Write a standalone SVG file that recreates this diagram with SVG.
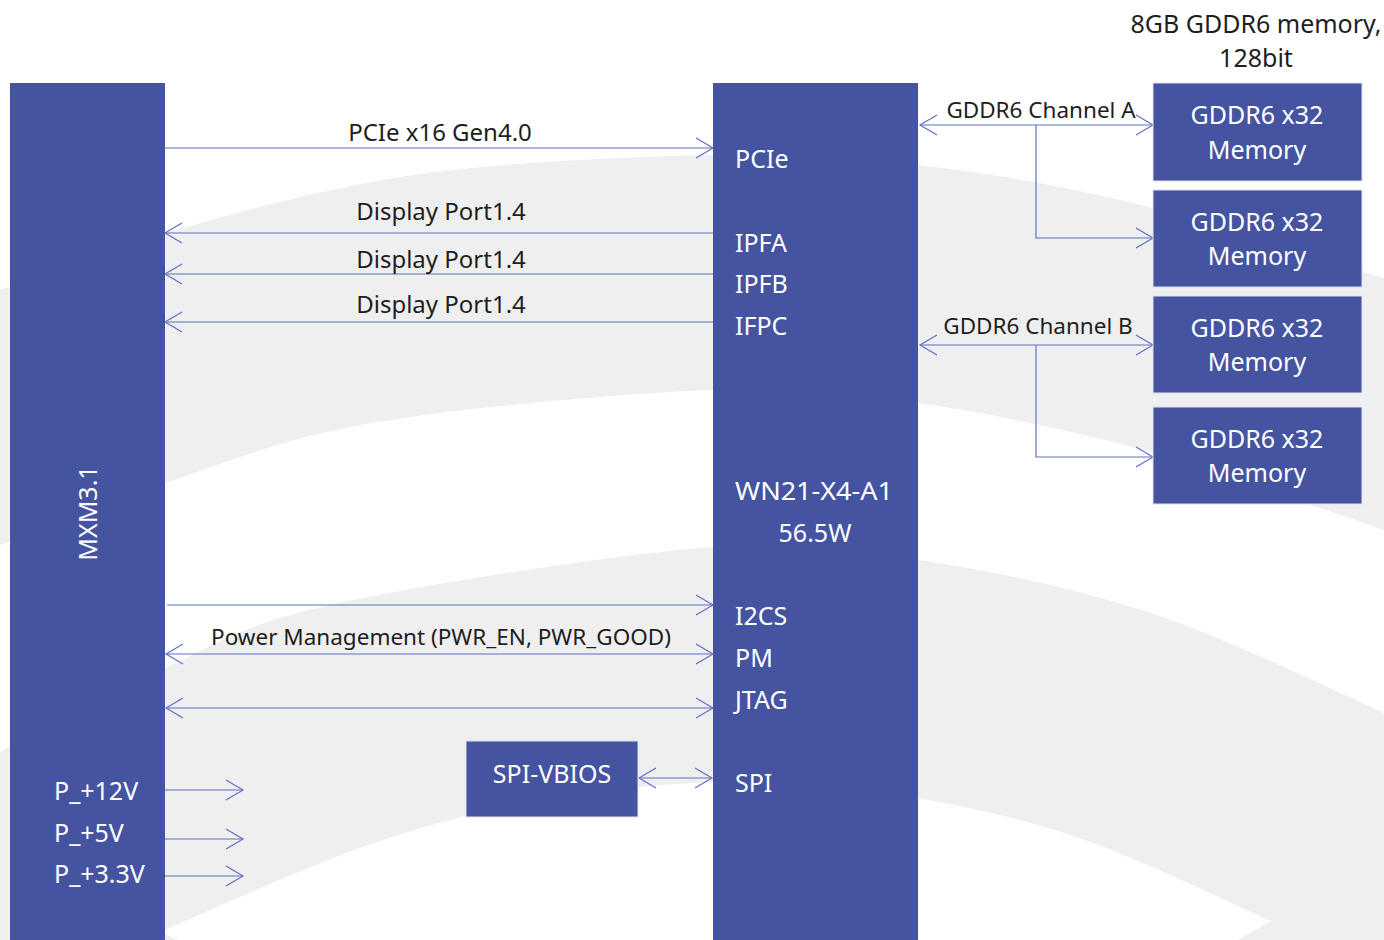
<svg xmlns="http://www.w3.org/2000/svg" width="1384" height="940" viewBox="0 0 1384 940">
<style>
.bg{fill:#efefef}
.box{fill:#4554a1}
.mem{fill:#4554a1;stroke:#dfe1ee;stroke-width:1}
.wt{fill:#ffffff;font-family:"Noto Sans","Liberation Sans",sans-serif;font-size:25px}
.dk{fill:#1e1e1e;font-family:"Noto Sans","Liberation Sans",sans-serif;font-size:24px}
.sm{font-size:22.5px}
.ln{stroke:#6170c2;stroke-width:1.2;fill:none}
</style>
<defs>
<marker id="ah" markerUnits="userSpaceOnUse" viewBox="-18 -11 20 22" refX="0" refY="0" markerWidth="20" markerHeight="22" orient="auto-start-reverse">
<path d="M-17,-10 L0,0 L-17,10" fill="none" stroke="#6170c2" stroke-width="1.2"/>
</marker>
</defs>
<rect width="1384" height="940" fill="#ffffff"/>
<g id="background">
<path class="bg" d="M0,290 C27.5,280.5 96,252.2 165,233 C234,213.8 322.7,188 414,175 C505.3,162 629.2,156.7 713,155 C796.8,153.3 847,157 917,165 C987,173 1055.2,184.2 1133,203 C1210.8,221.8 1342.2,265.5 1384,278 L1384,530 C1371.8,526.2 1352.8,518.8 1311,505 C1269.2,491.2 1198.7,464 1133,447 C1067.3,430 987.2,412.5 917,403 C846.8,393.5 802.8,386.7 712,390 C621.2,393.3 463.2,407.5 372,423 C280.8,438.5 227,462.7 165,483 C103,503.3 27.5,534.7 0,545 Z"/>
<path class="bg" d="M0,752 C27.5,738 110,692.5 165,668 C220,643.5 238.8,625.2 330,605 C421.2,584.8 614,554.5 712,547 C810,539.5 844.8,549 918,560 C991.2,571 1073.3,587.5 1151,613 C1228.7,638.5 1345.2,696.3 1384,713 L1384,940 L0,940 Z"/>
<path fill="#ffffff" d="M160,932 C195.7,917.2 307.3,865.5 374,843 C440.7,820.5 495.7,807.3 560,797 C624.3,786.7 700.3,780.8 760,781 C819.7,781.2 863.8,788.2 918,798 C972.2,807.8 1026.2,819.5 1085,840 C1143.8,860.5 1240,907.5 1271,921 L1238,940 L178,940 Z"/>
</g>
<g id="connectors">
<line class="ln" x1="165" y1="148" x2="713" y2="148" marker-end="url(#ah)"/>
<line class="ln" x1="713" y1="233" x2="165" y2="233" marker-end="url(#ah)"/>
<line class="ln" x1="713" y1="274" x2="165" y2="274" marker-end="url(#ah)"/>
<line class="ln" x1="713" y1="322" x2="165" y2="322" marker-end="url(#ah)"/>
<line class="ln" x1="167" y1="605" x2="713" y2="605" marker-end="url(#ah)"/>
<line class="ln" x1="166" y1="654" x2="713" y2="654" marker-start="url(#ah)" marker-end="url(#ah)"/>
<line class="ln" x1="166" y1="708" x2="713" y2="708" marker-start="url(#ah)" marker-end="url(#ah)"/>
<line class="ln" x1="639" y1="778" x2="712" y2="778" marker-start="url(#ah)" marker-end="url(#ah)"/>
<line class="ln" x1="165" y1="790" x2="243" y2="790" marker-end="url(#ah)"/>
<line class="ln" x1="165" y1="839" x2="243" y2="839" marker-end="url(#ah)"/>
<line class="ln" x1="165" y1="876" x2="243" y2="876" marker-end="url(#ah)"/>
<line class="ln" x1="920" y1="125" x2="1153" y2="125" marker-start="url(#ah)" marker-end="url(#ah)"/>
<polyline class="ln" points="1036,125 1036,238 1153,238" marker-end="url(#ah)"/>
<line class="ln" x1="920" y1="345" x2="1153" y2="345" marker-start="url(#ah)" marker-end="url(#ah)"/>
<polyline class="ln" points="1036,345 1036,457 1153,457" marker-end="url(#ah)"/>
</g>
<g id="labels">
<text class="dk" x="440" y="141" text-anchor="middle">PCIe x16 Gen4.0</text>
<text class="dk" x="441" y="220" text-anchor="middle">Display Port1.4</text>
<text class="dk" x="441" y="268" text-anchor="middle">Display Port1.4</text>
<text class="dk" x="441" y="313" text-anchor="middle">Display Port1.4</text>
<text class="dk sm" x="441" y="645" text-anchor="middle">Power Management (PWR_EN, PWR_GOOD)</text>
<text class="dk sm" x="1041" y="118" text-anchor="middle">GDDR6 Channel A</text>
<text class="dk sm" x="1038" y="334" text-anchor="middle">GDDR6 Channel B</text>
<text class="dk" x="1256" y="33" text-anchor="middle" style="font-size:25px">8GB GDDR6 memory,</text>
<text class="dk" x="1256" y="67" text-anchor="middle" style="font-size:25px">128bit</text>
</g>
<g id="mxm">
<rect class="box" x="10" y="83" width="155" height="857"/>
<text class="wt" transform="translate(97,513) rotate(-90)" text-anchor="middle">MXM3.1</text>
<text class="wt" x="54" y="800">P_+12V</text>
<text class="wt" x="54" y="842">P_+5V</text>
<text class="wt" x="54" y="883">P_+3.3V</text>
</g>
<g id="gpu">
<rect class="box" x="713" y="83" width="205" height="857"/>
<text class="wt" x="735" y="168">PCIe</text>
<text class="wt" x="735" y="252">IPFA</text>
<text class="wt" x="735" y="293">IPFB</text>
<text class="wt" x="735" y="335">IFPC</text>
<text class="wt" x="735" y="500" textLength="158" lengthAdjust="spacingAndGlyphs">WN21-X4-A1</text>
<text class="wt" x="815" y="542" text-anchor="middle">56.5W</text>
<text class="wt" x="735" y="625">I2CS</text>
<text class="wt" x="735" y="667">PM</text>
<text class="wt" x="735" y="709">JTAG</text>
<text class="wt" x="735" y="792">SPI</text>
</g>
<g id="mem1">
<rect class="mem" x="1153" y="83" width="209" height="98"/>
<text class="wt" x="1257" y="124" text-anchor="middle">GDDR6 x32</text>
<text class="wt" x="1257" y="159" text-anchor="middle">Memory</text>
</g>
<g id="mem2">
<rect class="mem" x="1153" y="190" width="209" height="97"/>
<text class="wt" x="1257" y="231" text-anchor="middle">GDDR6 x32</text>
<text class="wt" x="1257" y="265" text-anchor="middle">Memory</text>
</g>
<g id="mem3">
<rect class="mem" x="1153" y="296" width="209" height="97"/>
<text class="wt" x="1257" y="337" text-anchor="middle">GDDR6 x32</text>
<text class="wt" x="1257" y="371" text-anchor="middle">Memory</text>
</g>
<g id="mem4">
<rect class="mem" x="1153" y="407" width="209" height="97"/>
<text class="wt" x="1257" y="448" text-anchor="middle">GDDR6 x32</text>
<text class="wt" x="1257" y="482" text-anchor="middle">Memory</text>
</g>
<g id="spivbios">
<rect class="mem" x="466" y="741" width="172" height="76"/>
<text class="wt" x="552" y="783" text-anchor="middle">SPI-VBIOS</text>
</g>
</svg>
